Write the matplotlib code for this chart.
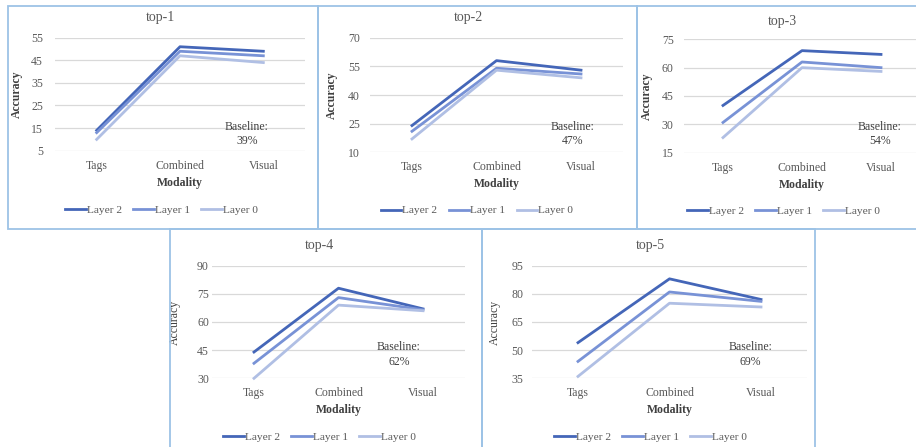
import matplotlib
matplotlib.use('Agg')
import matplotlib.pyplot as plt
from matplotlib.patches import Rectangle
import numpy as np

plt.rcParams['font.family'] = ['Liberation Serif', 'DejaVu Serif']

####data section#####
categories = ['Tags', 'Combined', 'Visual']
layer_names = ['Layer 2', 'Layer 1', 'Layer 0']

top1_layer2 = [14, 51, 49]
top1_layer1 = [13, 49, 47]
top1_layer0 = [10, 47, 44]

top2_layer2 = [24, 58, 53]
top2_layer1 = [21, 54, 51]
top2_layer0 = [17, 53, 49]

top3_layer2 = [40, 69, 67]
top3_layer1 = [31, 63, 60]
top3_layer0 = [23, 60, 58]

top4_layer2 = [44, 78, 67]
top4_layer1 = [38, 73, 66.5]
top4_layer0 = [30, 69, 66]

top5_layer2 = [54, 88, 77]
top5_layer1 = [44, 81, 76]
top5_layer0 = [36, 75, 73]

titles = ['top-1', 'top-2', 'top-3', 'top-4', 'top-5']
baselines = ['39%', '47%', '54%', '62%', '69%']
yticks = [[5, 15, 25, 35, 45, 55],
          [10, 25, 40, 55, 70],
          [15, 30, 45, 60, 75],
          [30, 45, 60, 75, 90],
          [35, 50, 65, 80, 95]]
series = [[top1_layer2, top1_layer1, top1_layer0],
          [top2_layer2, top2_layer1, top2_layer0],
          [top3_layer2, top3_layer1, top3_layer0],
          [top4_layer2, top4_layer1, top4_layer0],
          [top5_layer2, top5_layer1, top5_layer0]]

####layout (pixels)#####
W, H = 916, 447
colors = ['#4466b8', '#7892d6', '#b0bfe4']
gray = '#595959'
# left, right, top tick, bottom tick
boxes = [(55, 305, 37.7, 150.7),
         (369.75, 623.25, 37.7, 152.3),
         (683.5, 920.5, 39.3, 152.7),
         (211.75, 465.25, 265.7, 378.3),
         (532.25, 806.75, 265.7, 378.3)]
ypads = [8.6, 7, 7, 2, 6.5]
ylab_x = [-0.128, -0.125, -0.13, -0.122, -0.115]
ylab_bold = [True, True, True, False, False]
title_pos = [(160, 17), (468, 18), (782, 21), (319, 246), (650, 246)]
legend_pos = [(161.5, 210), (477, 210.5), (783.5, 211), (319.5, 437), (650.5, 437)]
base_pos = [(247, 134), (573, 134), (880, 134), (399, 354.5), (750.5, 354.5)]

fig = plt.figure(figsize=(W / 100, H / 100), dpi=100)

# panel frames
frame = '#9dc3e6'
for (x0, y0, x1, y1) in [(8, 6, 318, 229), (318, 6, 637, 229), (637, 6, 930, 229),
                         (170, 229, 482, 460), (482, 229, 815, 460)]:
    fig.patches.append(Rectangle((x0 / W, 1 - y1 / H), (x1 - x0) / W, (y1 - y0) / H,
                                 transform=fig.transFigure, fill=False,
                                 edgecolor=frame, lw=1.3))

x = np.arange(len(categories))
for i in range(5):
    L, R, T, B = boxes[i]
    ax = fig.add_axes([L / W, 1 - B / H, (R - L) / W, (B - T) / H])
    for s, name, c in zip(series[i], layer_names, colors):
        ax.plot(x, s, color=c, lw=2.0, label=name, clip_on=False,
                solid_joinstyle='round')
    ax.set_xlim(-0.5, 2.5)
    ax.set_ylim(yticks[i][0], yticks[i][-1])
    ax.set_yticks(yticks[i])
    ax.set_xticks(x)
    ax.set_xticklabels(categories)
    ax.grid(axis='y', color='#d9d9d9', lw=0.9)
    ax.set_axisbelow(True)
    for sp in ax.spines.values():
        sp.set_visible(False)
    ax.tick_params(axis='y', length=0, pad=ypads[i], labelsize=8.5, labelcolor=gray)
    ax.tick_params(axis='x', length=0, pad=6.5, labelsize=8.5, labelcolor=gray)
    ax.set_xlabel('Modality', fontsize=8.5, fontweight='bold', color='#404040', labelpad=3.5)
    ax.set_ylabel('Accuracy', fontsize=8.5, color='#404040',
                  fontweight='bold' if ylab_bold[i] else 'normal')
    ax.yaxis.set_label_coords(ylab_x[i], 0.5)
    fig.text(title_pos[i][0] / W, 1 - title_pos[i][1] / H, titles[i],
             ha='center', va='center', fontsize=10, color=gray)
    fig.text(base_pos[i][0] / W, 1 - base_pos[i][1] / H, 'Baseline:\n' + baselines[i],
             ha='center', va='center', fontsize=8.5, color='#404040', linespacing=1.3)
    ax.legend(loc='center', bbox_to_anchor=(legend_pos[i][0] / W, 1 - legend_pos[i][1] / H),
              bbox_transform=fig.transFigure, ncol=3, frameon=False, fontsize=8.2,
              handlelength=1.8, handletextpad=0.1, columnspacing=1.0, labelcolor=gray)

fig.savefig('out.png', dpi=100)
